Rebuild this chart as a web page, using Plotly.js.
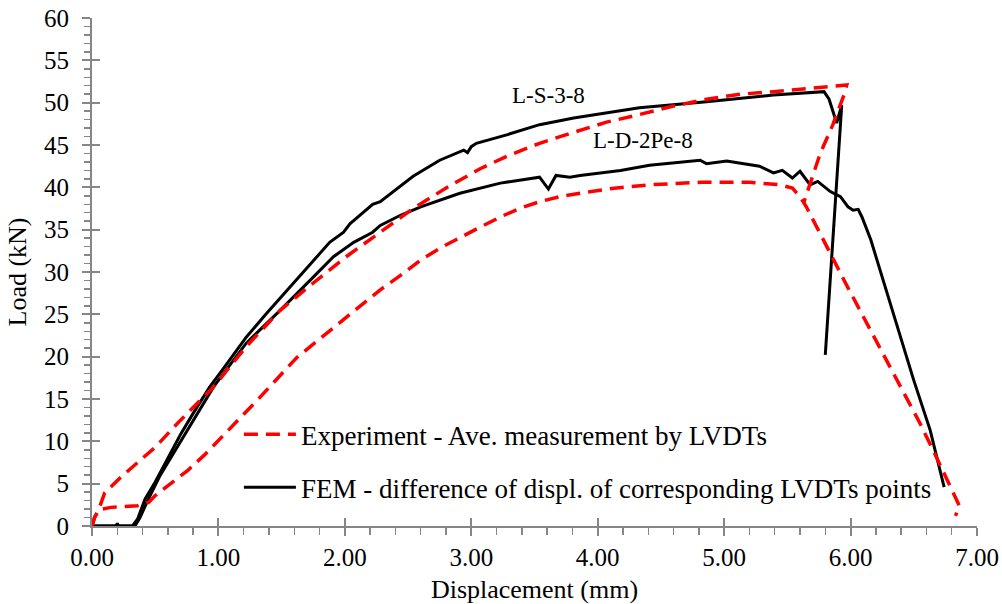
<!DOCTYPE html>
<html>
<head>
<meta charset="utf-8">
<script src="https://cdn.plot.ly/plotly-3.0.1.min.js"></script>
<style>html,body{margin:0;padding:0;background:#fff}#chart{width:1002px;height:604px}</style>
</head>
<body>
<div id="chart"></div>
<script>
// Experiment - L-S-3-8 (red dashed, upper)
const expLS_x = [0,0.02,0.05,0.1,0.23,0.36,0.5,0.7,0.86,0.96,1.22,1.49,1.75,2.01,2.28,2.54,2.81,3.07,3.3,3.54,3.81,4.07,4.33,4.6,4.86,5.13,5.39,5.65,5.89,5.97,5.95,5.86,5.76,5.63];
const expLS_y = [0,1.0,1.8,3.9,5.8,7.5,9.3,12.5,14.9,16.4,21.2,25.5,28.7,31.8,34.7,37.5,40.0,42.2,43.8,45.2,46.5,47.7,48.6,49.6,50.4,51.0,51.3,51.7,52.0,52.1,51.0,47.4,44.0,38.2];
// Experiment - L-D-2Pe-8 (red dashed, lower)
const expLD_x = [0,0.02,0.05,0.15,0.36,0.45,0.5,0.62,0.76,0.89,1.02,1.15,1.31,1.62,1.88,2.14,2.28,2.44,2.6,2.75,2.91,3.07,3.23,3.38,3.54,3.7,3.86,4.13,4.41,4.81,5.2,5.44,5.54,5.6,5.65,5.76,5.84,5.97,6.1,6.24,6.38,6.55,6.68,6.81,6.86,6.83];
const expLD_y = [0,1.0,1.9,2.2,2.4,2.8,3.6,5.0,6.6,8.4,10.4,12.5,14.9,19.9,23.1,26.3,27.9,29.6,31.4,32.8,34.1,35.3,36.5,37.5,38.3,38.9,39.3,39.9,40.3,40.6,40.6,40.3,39.9,38.9,37.7,34.6,32.2,28.4,24.7,20.8,16.8,12.1,8.1,3.9,2.4,1.2];
// FEM - L-S-3-8 (black, upper)
const femLS_x = [0,0.19,0.2,0.21,0.32,0.36,0.42,0.5,0.6,0.7,0.8,0.93,1.03,1.22,1.38,1.56,1.72,1.88,1.99,2.04,2.22,2.28,2.54,2.75,2.94,2.97,3.0,3.04,3.28,3.54,3.81,4.07,4.33,4.86,5.39,5.79,5.83,5.89,5.93,5.8];
const femLS_y = [0,0,0.3,0,0,0.8,3.2,5.2,8.0,10.8,13.3,16.4,18.4,22.3,25.1,28.1,30.8,33.5,34.7,35.7,38.0,38.3,41.3,43.2,44.4,44.1,44.8,45.2,46.2,47.4,48.2,48.8,49.4,50.1,50.9,51.3,50.4,47.6,49.7,20.2];
// FEM - L-D-2Pe-8 (black, lower)
const femLD_x = [0,0.34,0.38,0.44,0.54,0.66,0.75,0.96,1.22,1.49,1.75,1.91,2.07,2.22,2.28,2.44,2.6,2.91,3.23,3.54,3.61,3.67,3.78,3.86,4.18,4.41,4.81,4.86,5.02,5.1,5.28,5.39,5.46,5.54,5.6,5.68,5.74,5.84,5.92,5.98,6.02,6.06,6.09,6.16,6.24,6.34,6.5,6.63,6.74];
const femLD_y = [0,0,1.0,3.0,6.0,9.0,11.3,16.4,21.6,25.5,29.4,31.8,33.5,34.7,35.5,36.7,37.7,39.3,40.5,41.2,39.8,41.4,41.2,41.4,42.0,42.6,43.2,42.8,43.1,42.9,42.5,41.7,42.0,41.1,41.9,40.3,40.7,39.5,38.9,37.7,37.3,37.4,36.5,33.8,29.9,25.1,17.2,11.3,4.6];

const legendNames = ["Experiment - Ave. measurement by LVDTs", "FEM - difference of displ. of corresponding LVDTs points"];
const curveLabels = ["L-S-3-8", "L-D-2Pe-8"];
const labelPos_x = [3.61, 4.36];
const labelPos_y = [50.8, 45.5];

const FONT = "Liberation Serif, serif";
const AXC = "#868686";
const TXT = 26;
const TICK = 25;
const redLine = {color: "#ff0000", width: 3.5, dash: "14px,8px"};
const blkLine = {color: "#000000", width: 3};

const traces = [
  {x: femLS_x, y: femLS_y, type: "scatter", mode: "lines", line: blkLine, name: legendNames[1], legendgroup: "b", legendrank: 2, showlegend: true},
  {x: femLD_x, y: femLD_y, type: "scatter", mode: "lines", line: blkLine, name: legendNames[1], legendgroup: "b", showlegend: false},
  {x: expLS_x, y: expLS_y, type: "scatter", mode: "lines", line: redLine, name: legendNames[0], legendgroup: "a", legendrank: 1, showlegend: true},
  {x: expLD_x, y: expLD_y, type: "scatter", mode: "lines", line: redLine, name: legendNames[0], legendgroup: "a", showlegend: false},
  {x: [], y: [], xaxis: "x2", yaxis: "y2", type: "scatter", mode: "lines", showlegend: false, hoverinfo: "skip"}
];

const layout = {
  width: 1002, height: 604,
  margin: {l: 92, r: 25, t: 18, b: 78},
  paper_bgcolor: "#fff", plot_bgcolor: "#fff",
  font: {family: FONT, size: TXT, color: "#000"},
  showlegend: true,
  legend: {x: 0.166, y: 0.228, xanchor: "left", yanchor: "top", bgcolor: "rgba(0,0,0,0)",
           font: {family: FONT, size: 27, color: "#000"}, traceorder: "grouped", tracegroupgap: 15, itemwidth: 52},
  xaxis: {range: [0, 7], dtick: 1, tick0: 0, tickformat: ".2f", showgrid: false, zeroline: false,
          showline: true, linecolor: AXC, linewidth: 2, ticks: "outside", ticklen: 8, tickwidth: 2, tickcolor: AXC,
          minor: {dtick: 0.2, ticks: "outside", ticklen: 7, tickwidth: 1.5, tickcolor: AXC},
          tickfont: {family: FONT, size: TICK, color: "#000"},
          title: {text: "Displacement (mm)", font: {family: FONT, size: TXT, color: "#000"}, standoff: 10}},
  yaxis: {range: [0, 60], dtick: 5, tick0: 0, showgrid: false, zeroline: false,
          showline: true, linecolor: AXC, linewidth: 2, ticks: "outside", ticklen: 8, tickwidth: 2, tickcolor: AXC,
          ticklabelstandoff: 8,
          minor: {dtick: 1, ticks: "outside", ticklen: 6, tickwidth: 1.5, tickcolor: AXC},
          tickfont: {family: FONT, size: TICK, color: "#000"},
          title: {text: "Load (kN)", font: {family: FONT, size: TXT, color: "#000"}, standoff: 10}},
  xaxis2: {overlaying: "x", anchor: "y2", range: [0, 7], dtick: 1, tick0: 0, showgrid: false, zeroline: false,
           showline: false, ticks: "inside", ticklen: 8, tickwidth: 2, tickcolor: AXC, showticklabels: false},
  yaxis2: {overlaying: "y", anchor: "x2", range: [0, 60], dtick: 5, tick0: 0, showgrid: false, zeroline: false,
           showline: false, ticks: "inside", ticklen: 8, tickwidth: 2, tickcolor: AXC, showticklabels: false},
  annotations: curveLabels.map((t, i) => ({x: labelPos_x[i], y: labelPos_y[i], xref: "x", yref: "y", text: t,
           showarrow: false, font: {family: FONT, size: 23, color: "#000"}}))
};

Plotly.newPlot("chart", traces, layout, {staticPlot: true});
</script>
</body>
</html>
